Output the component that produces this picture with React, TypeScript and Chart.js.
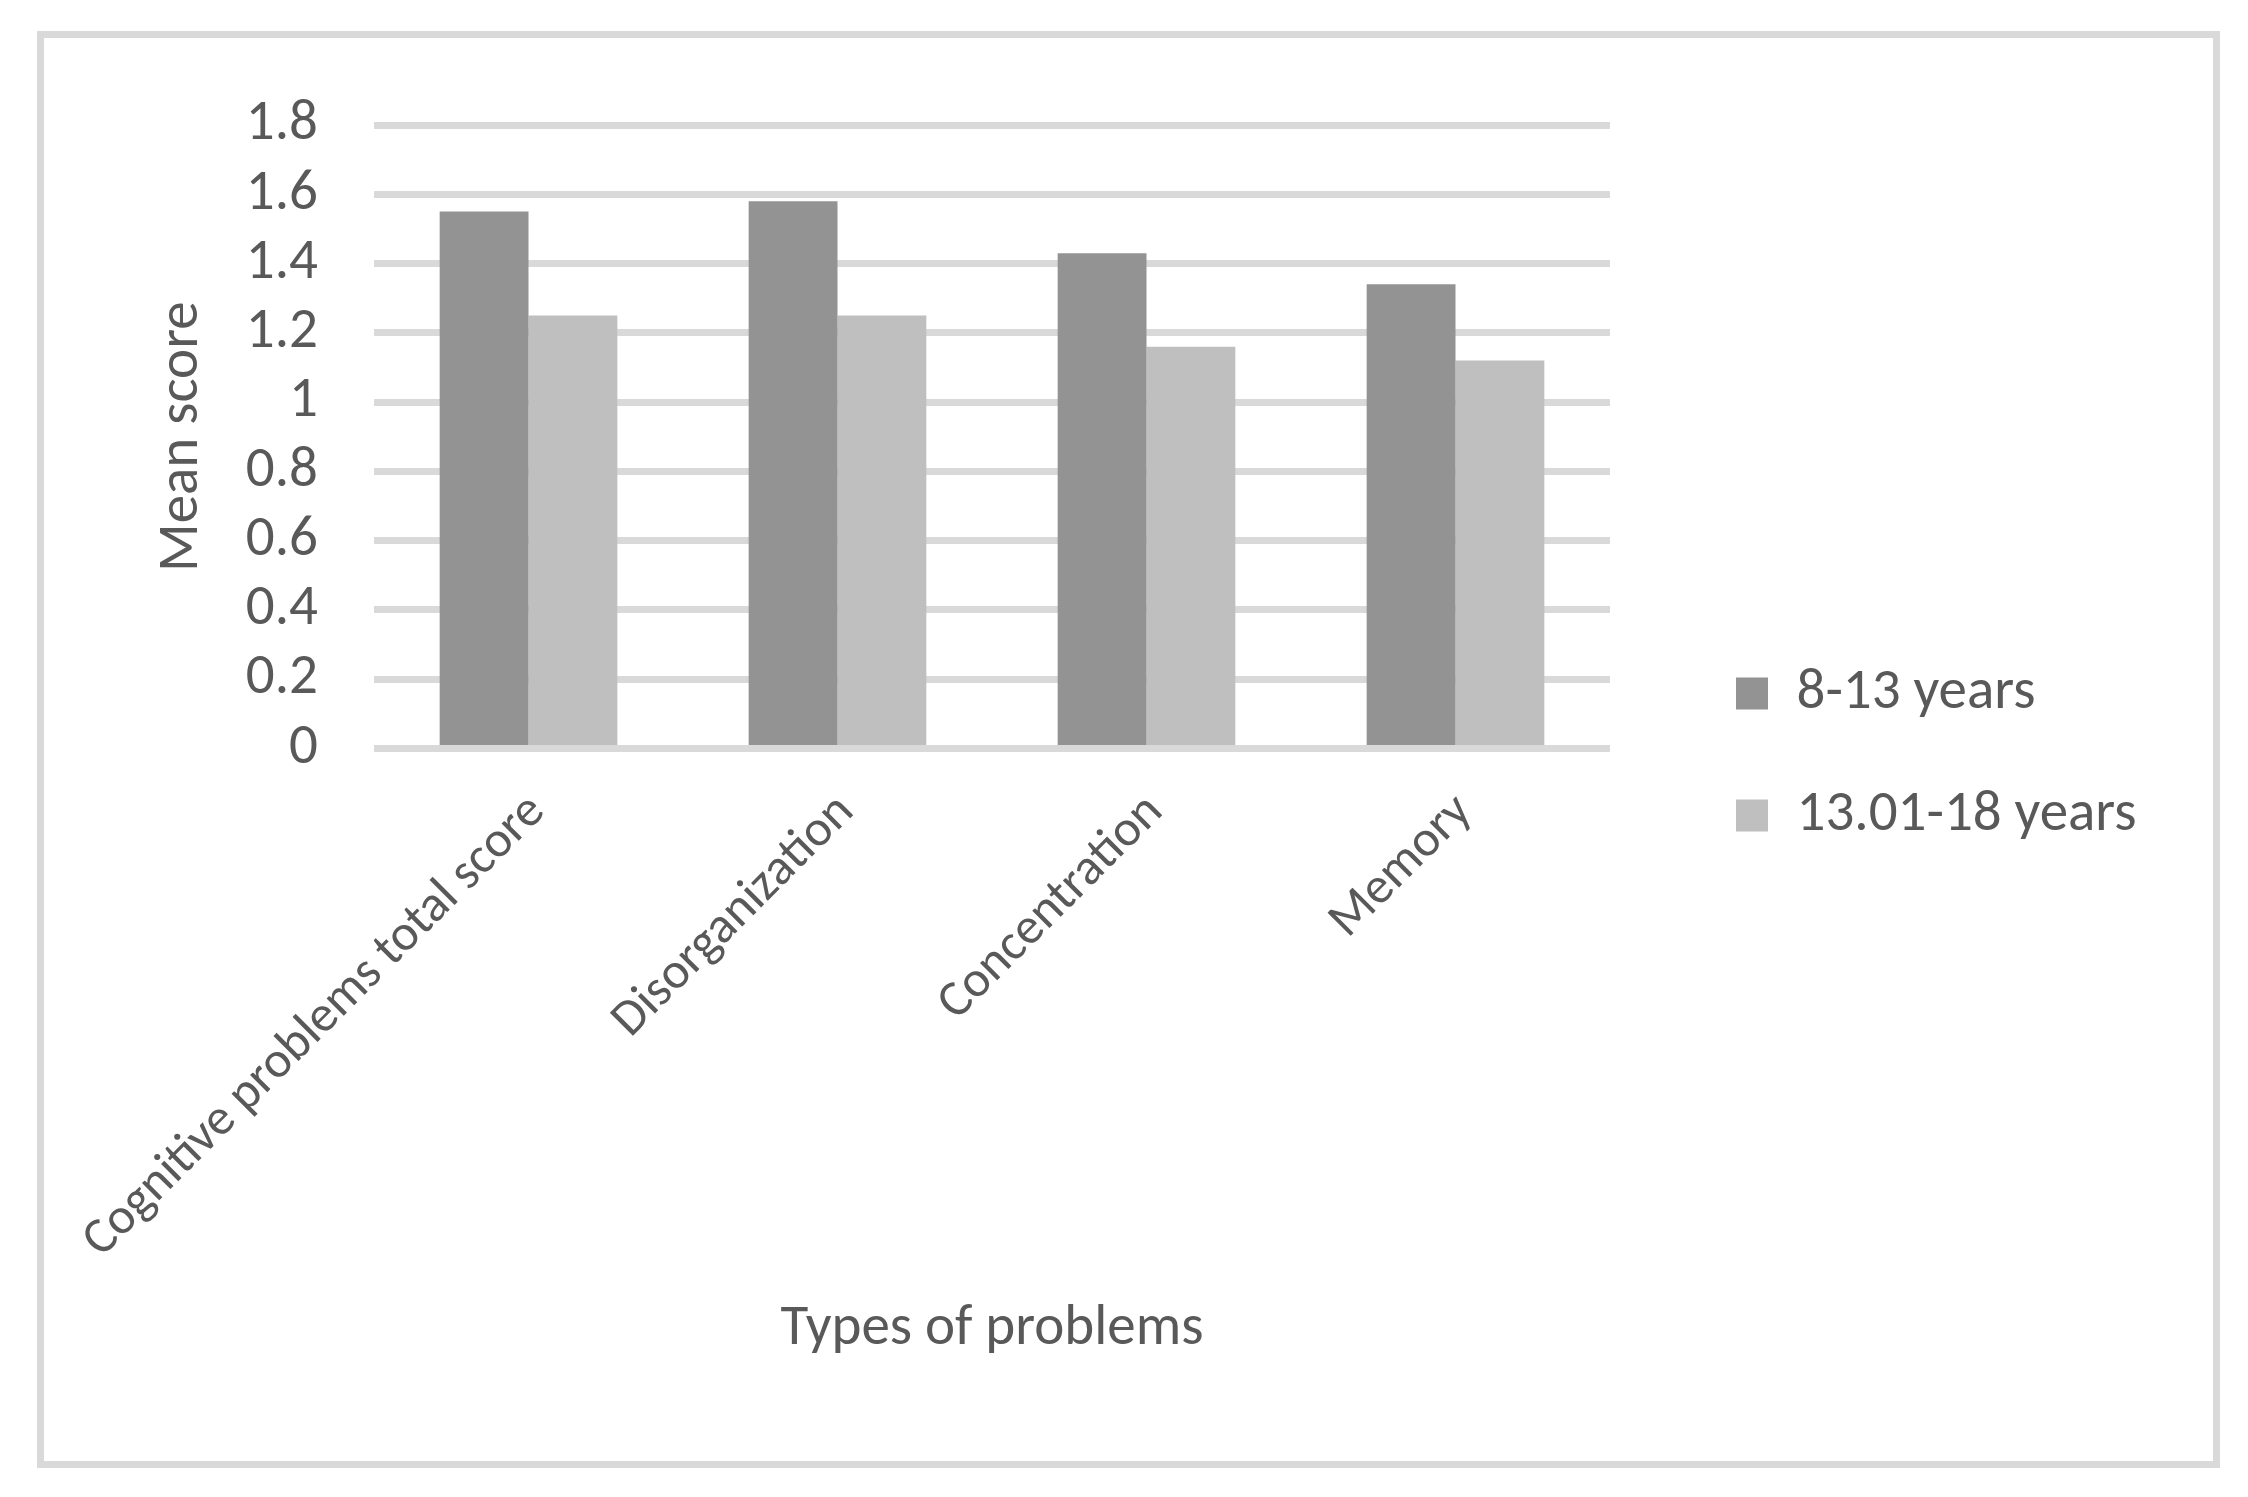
import React, { useEffect, useRef } from "react";
import { Chart, registerables } from "chart.js";

Chart.register(...registerables);

const categories = [
  "Cognitive problems total score",
  "Disorganization",
  "Concentration",
  "Memory",
];
const seriesNames = ["8-13 years", "13.01-18 years"];
const younger = [1.55, 1.58, 1.43, 1.34];
const older = [1.25, 1.25, 1.16, 1.12];
const yTicks = [0, 0.2, 0.4, 0.6, 0.8, 1, 1.2, 1.4, 1.6, 1.8];
const seriesColors = ["#939393", "#bfbfbf"];
const xTitle = "Types of problems";
const yTitle = "Mean score";

const FONT = "Carlito, Calibri, Lato, sans-serif";
const TEXT = "#595959";
const W = 2248;
const H = 1497;

const borderPlugin = {
  id: "outerBorder",
  beforeDraw(chart: any) {
    const ctx = chart.ctx;
    ctx.save();
    ctx.fillStyle = "#ffffff";
    ctx.fillRect(0, 0, chart.width, chart.height);
    ctx.strokeStyle = "#d9d9d9";
    ctx.lineWidth = 7;
    ctx.strokeRect(40.5, 34.5, 2176, 1430);
    ctx.restore();
  },
};

// leaves a gap between the plot area and the legend column
const legendGapPlugin = {
  id: "legendGap",
  afterLayout(chart: any) {
    const lg = chart.legend;
    if (lg) {
      lg.left += 61;
      lg.right = chart.width;
      lg.top += 10;
      lg.bottom += 10;
    }
  },
};

export default function App() {
  const ref = useRef<HTMLCanvasElement | null>(null);

  useEffect(() => {
    if (!ref.current) return;
    const chart = new Chart(ref.current, {
      type: "bar",
      data: {
        labels: categories,
        datasets: [
          {
            label: seriesNames[0],
            data: younger,
            backgroundColor: seriesColors[0],
            borderWidth: 0,
          },
          {
            label: seriesNames[1],
            data: older,
            backgroundColor: seriesColors[1],
            borderWidth: 0,
          },
        ],
      },
      plugins: [borderPlugin, legendGapPlugin],
      options: {
        responsive: false,
        animation: false,
        devicePixelRatio: 1,
        datasets: {
          bar: { barPercentage: 1, categoryPercentage: 0.575 },
        },
        layout: {
          padding: { left: 100, top: 125, right: 238, bottom: 133 },
        },
        plugins: {
          tooltip: { enabled: false },
          legend: {
            position: "right",
            align: "center",
            maxWidth: 400,
            labels: {
              boxWidth: 32,
              boxHeight: 32,
              padding: 65,
              color: TEXT,
              font: { family: FONT, size: 57 },
            },
          },
        },
        scales: {
          x: {
            grid: { display: false },
            border: { display: false },
            ticks: {
              color: TEXT,
              font: { family: FONT, size: 51 },
              minRotation: 45,
              maxRotation: 45,
              autoSkip: false,
              padding: 26,
              labelOffset: 9,
            },
            title: {
              display: true,
              text: xTitle,
              color: TEXT,
              font: { family: FONT, size: 57 },
              padding: { top: 0, bottom: 0 },
            },
            afterFit: (s: any) => {
              s.height = 615.6;
            },
          },
          y: {
            min: 0,
            max: 1.8,
            position: "left",
            grid: { color: "#d9d9d9", lineWidth: 7, drawTicks: false },
            border: { display: false },
            afterBuildTicks: (s: any) => {
              s.ticks = yTicks.map((v) => ({ value: v }));
            },
            ticks: {
              color: TEXT,
              font: { family: FONT, size: 57 },
              padding: 56,
              autoSkip: false,
              callback: (v: any) => String(Number(Number(v).toFixed(1))),
            },
            title: {
              display: true,
              text: yTitle,
              color: TEXT,
              font: { family: FONT, size: 57 },
              padding: { top: 49, bottom: 0 },
            },
            afterFit: (s: any) => {
              s.width = 274;
            },
          },
        },
      },
    } as any);
    return () => chart.destroy();
  }, []);

  return (
    <div style={{ position: "absolute", left: 0, top: 0, width: W, height: H, background: "#fff" }}>
      <canvas ref={ref} width={W} height={H} style={{ display: "block", width: W, height: H }} />
    </div>
  );
}
